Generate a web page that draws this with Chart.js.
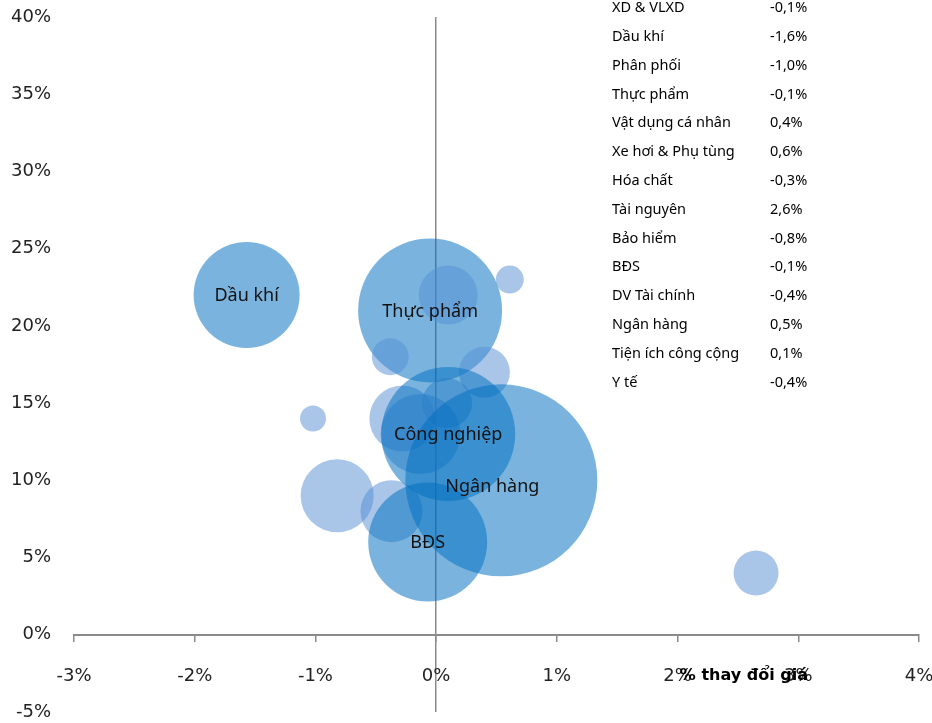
<!DOCTYPE html>
<html>
<head>
<meta charset="utf-8">
<script src="https://cdn.jsdelivr.net/npm/chart.js@4"></script>
<style>
  html, body { margin: 0; padding: 0; background: #fff; }
  #wrap { width: 932px; height: 723px; }
</style>
</head>
<body>
<div id="wrap"><canvas id="bubbleChart"></canvas></div>
<script>
// sectors, x = % price change, y = second metric, size = bubble radius
const sectors = ['Dầu khí', 'Thực phẩm', 'Tiện ích công cộng', 'Xe hơi & Phụ tùng', 'Y tế',
  'Vật dụng cá nhân', 'Hóa chất', 'XD & VLXD', 'Khác', 'Công nghiệp', 'Phân phối',
  'Bảo hiểm', 'DV Tài chính', 'BĐS', 'Ngân hàng', 'Tài nguyên'];
const xValues = [-1.57, -0.05, 0.1, 0.61, -0.38, 0.4, -0.28, -0.13, 0.09, 0.1, -1.02, -0.82, -0.37, -0.07, 0.54, 2.65];
const yValues = [22, 21, 22, 23, 18, 17, 14, 13, 15, 13, 14, 9, 8, 6, 10, 4];
const sizes = [53, 72, 29.5, 14, 18.5, 25.5, 33, 40, 25, 67, 13, 36.5, 31, 59.5, 96, 22.5];
const labeledSectors = ['Dầu khí', 'Thực phẩm', 'Công nghiệp', 'Ngân hàng', 'BĐS'];

// table at the top right
const tableNames = ['XD & VLXD', 'Dầu khí', 'Phân phối', 'Thực phẩm', 'Vật dụng cá nhân',
  'Xe hơi & Phụ tùng', 'Hóa chất', 'Tài nguyên', 'Bảo hiểm', 'BĐS', 'DV Tài chính',
  'Ngân hàng', 'Tiện ích công cộng', 'Y tế'];
const tableValues = ['-0,1%', '-1,6%', '-1,0%', '-0,1%', '0,4%', '0,6%', '-0,3%', '2,6%',
  '-0,8%', '-0,1%', '-0,4%', '0,5%', '0,1%', '-0,4%'];

const xTicks = [-3, -2, -1, 0, 1, 2, 3, 4];
const yTicks = [-5, 0, 5, 10, 15, 20, 25, 30, 35, 40];

const axisGrey = '#8a8a8a';
const strongBlue = 'rgba(0, 112, 192, 0.52)';
const lightBlue = 'rgba(84, 141, 212, 0.5)';

const points = sectors.map((s, i) => ({ x: xValues[i], y: yValues[i], r: sizes[i] }));
const colors = sectors.map(s => labeledSectors.includes(s) ? strongBlue : lightBlue);

const overlay = {
  id: 'overlay',
  afterDatasetsDraw(chart) {
    const ctx = chart.ctx;
    const meta = chart.getDatasetMeta(0);
    ctx.save();
    ctx.fillStyle = '#111';
    ctx.textAlign = 'center';
    ctx.textBaseline = 'middle';
    ctx.font = '18px "Noto Sans"';
    sectors.forEach((name, i) => {
      if (!labeledSectors.includes(name)) return;
      const el = meta.data[i];
      const off = name === 'Ngân hàng' ? [-9, 7] : [0, 1];
      ctx.fillText(name, el.x + off[0], el.y + off[1]);
    });

    // table text
    ctx.textAlign = 'left';
    ctx.fillStyle = '#000';
    ctx.font = '14.5px "Noto Sans"';
    tableNames.forEach((name, i) => {
      const y = 8 + i * 28.8;
      ctx.fillText(name, 612, y);
      ctx.fillText(tableValues[i], 770, y);
    });

    // axis title
    ctx.textAlign = 'center';
    ctx.font = 'bold 16px "DejaVu Sans"';
    ctx.fillText('% thay đổi giá', chart.scales.x.getPixelForValue(2.55), 676);
    ctx.restore();
  }
};

new Chart(document.getElementById('bubbleChart'), {
  type: 'bubble',
  data: {
    datasets: [{
      label: 'Ngành',
      data: points,
      backgroundColor: colors,
      borderWidth: 0,
      hoverBorderWidth: 0
    }]
  },
  options: {
    responsive: true,
    maintainAspectRatio: false,
    animation: false,
    events: [],
    layout: { autoPadding: false, padding: { top: 17, right: 13, bottom: 11, left: 0 } },
    plugins: {
      legend: { display: false },
      tooltip: { enabled: false }
    },
    scales: {
      x: {
        type: 'linear',
        position: { y: 0 },
        min: -3,
        max: 4,
        afterBuildTicks: s => { s.ticks = xTicks.map(v => ({ value: v })); },
        afterFit: s => { s.paddingLeft = 0; s.paddingRight = 0; },
        border: { display: true, color: axisGrey, width: 2 },
        grid: {
          drawOnChartArea: true,
          color: c => (c.tick && c.tick.value === 0) ? axisGrey : 'rgba(0,0,0,0)',
          lineWidth: 1.5,
          tickColor: axisGrey,
          tickLength: 6
        },
        ticks: {
          padding: 25,
          maxRotation: 0,
          color: '#222',
          font: { family: 'DejaVu Sans', size: 18 },
          callback: v => v + '%'
        }
      },
      y: {
        type: 'linear',
        position: 'left',
        min: -5,
        max: 40,
        afterBuildTicks: s => { s.ticks = yTicks.map(v => ({ value: v })); },
        afterFit: s => { s.width = 74; s.paddingTop = 0; s.paddingBottom = 0; },
        border: { display: false },
        grid: { display: false, drawTicks: false },
        ticks: {
          padding: 23,
          color: '#222',
          font: { family: 'DejaVu Sans', size: 18 },
          callback: v => v + '%'
        }
      }
    }
  },
  plugins: [overlay]
});
</script>
</body>
</html>
